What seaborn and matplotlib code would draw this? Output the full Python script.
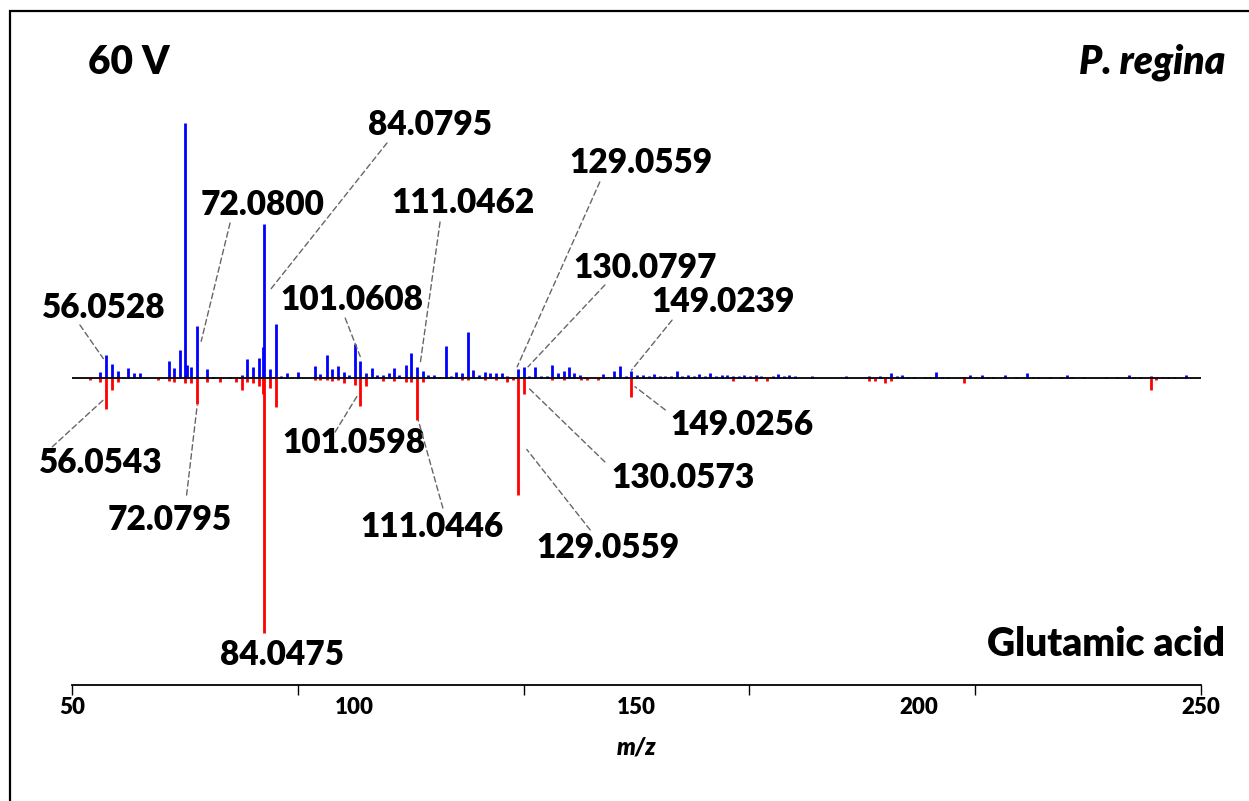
import numpy as np
import pandas as pd
import matplotlib
matplotlib.use("Agg")
import matplotlib.pyplot as plt
from matplotlib.patches import Rectangle
import seaborn as sns

# P. regina (top, blue): m/z and relative intensity (%)
regina_mz = [55.0, 56.05, 57.1, 58.1, 60.0, 61.0, 62.0, 67.1, 68.1, 69.1, 70.07, 70.4, 71.1, 72.08,
             74.0, 75.0, 78.0, 80.1, 81.0, 82.1, 83.1, 83.75, 84.08, 85.0, 86.1, 87.0, 88.0, 90.1,
             93.0, 94.0, 95.1, 96.1, 97.1, 98.1, 99.1, 100.1, 101.06, 102.1, 103.1, 104.1, 105.1,
             106.2, 107.1, 108.0, 109.2, 110.1, 111.05, 112.1, 113.1, 114.1, 115.2, 116.2, 117.1,
             118.1, 119.1, 120.2, 121.0, 122.1, 123.1, 124.0, 125.1, 126.1, 127.1, 129.06, 130.08,
             131.0, 132.0, 133.1, 134.1, 135.1, 136.1, 137.1, 138.1, 139.0, 140.0, 141.0, 144.1,
             146.1, 147.1, 148.1, 149.02, 150.1, 151.1, 152.2, 153.1, 154.2, 155.1, 156.1, 157.1,
             158.1, 159.1, 160.1, 161.1, 162.1, 163.1, 164.1, 165.1, 166.1, 167.1, 168.1, 169.1,
             170.1, 171.2, 172.1, 174.1, 175.1, 176.1, 177.1, 178.1, 181.1, 187.1, 191.2, 193.1,
             195.1, 196.1, 197.1, 198.1, 199.1, 201.1, 202.0, 203.1, 204.1, 205.2, 208.1, 209.1,
             210.1, 211.2, 212.2, 213.2, 215.2, 217.2, 219.2, 220.2, 221.2, 223.2, 225.2, 226.2,
             227.2, 229.2, 233.2, 235.2, 237.2, 238.2, 239.2, 241.2, 243.2, 244.2, 245.2, 247.3]
regina_int = [2.5, 9.1, 5.5, 2.9, 3.9, 2.1, 2.0, 6.8, 3.9, 11.0, 100.0, 5.0, 4.3, 20.4,
              3.5, 0.5, 0.5, 1.0, 7.5, 4.3, 7.7, 12.0, 60.5, 3.7, 21.0, 0.7, 2.0, 2.4,
              4.6, 1.7, 9.0, 3.5, 4.6, 2.4, 1.0, 13.2, 6.7, 2.0, 3.8, 1.2, 1.2,
              1.8, 3.8, 1.2, 5.0, 9.8, 4.3, 2.7, 1.0, 1.2, 0.4, 12.4, 0.9,
              2.4, 1.8, 17.9, 3.0, 1.0, 2.2, 1.8, 1.8, 2.0, 0.9, 3.7, 4.3,
              0.9, 4.3, 0.9, 0.9, 5.1, 2.0, 2.7, 4.2, 2.0, 1.0, 0.5, 1.7,
              2.7, 4.6, 0.7, 2.9, 1.0, 1.2, 0.6, 1.7, 0.6, 0.8, 0.6, 2.6,
              0.8, 1.2, 0.8, 1.7, 0.6, 2.0, 0.6, 1.0, 1.2, 0.8, 0.8, 1.0,
              0.6, 1.0, 0.6, 0.6, 1.7, 0.6, 1.3, 0.6, 0.8, 0.8, 0.8, 0.8,
              2.0, 0.6, 1.0, 0.5, 0.5, 0.5, 0.5, 2.2, 0.5, 0.5, 0.5, 1.3,
              0.5, 1.0, 0.5, 0.5, 1.0, 0.5, 2.0, 0.5, 0.5, 0.5, 0.5, 1.0,
              0.5, 0.5, 0.5, 0.5, 1.3, 0.5, 0.5, 0.8, 0.5, 0.5, 0.5, 1.3]

# Glutamic acid standard (bottom, red)
glu_mz = [53.2, 55.0, 56.05, 57.1, 58.1, 65.2, 67.1, 68.1, 70.07, 71.1, 72.08, 74.0, 76.2,
          79.1, 80.1, 81.0, 82.1, 83.1, 83.75, 84.05, 85.0, 86.1, 93.0, 94.0, 95.1, 96.1,
          97.1, 98.1, 100.1, 101.06, 102.1, 105.1, 107.1, 109.2, 110.1, 111.04, 112.1, 119.1,
          120.2, 123.1, 125.1, 127.1, 128.1, 129.06, 130.06, 135.1, 137.1, 140.2, 141.2, 143.1,
          149.03, 167.1, 171.2, 173.2, 191.2, 192.2, 194.1, 195.1, 208.1, 241.1, 242.1]
glu_int = [0.8, 1.7, 12.2, 4.8, 1.6, 0.8, 1.2, 1.6, 2.0, 2.0, 10.2, 1.6, 1.6,
           1.4, 4.6, 1.7, 1.8, 3.1, 6.2, 100.0, 4.0, 11.4, 0.9, 0.8, 0.9, 1.0,
           0.8, 2.0, 2.6, 10.9, 3.0, 1.0, 1.2, 1.4, 1.4, 16.5, 1.6, 0.8,
           0.9, 0.8, 0.9, 1.7, 0.9, 46.0, 6.3, 0.9, 0.9, 0.9, 0.9, 0.9,
           7.6, 1.0, 1.3, 1.0, 1.0, 1.0, 2.0, 1.0, 1.8, 4.7, 0.8]

# annotated peaks
top_labels = ["56.0528", "72.0800", "84.0795", "101.0608", "111.0462", "129.0559", "130.0797", "149.0239"]
top_peaks = [56.05, 72.08, 84.08, 101.06, 111.05, 129.06, 130.08, 149.02]
bot_labels = ["56.0543", "72.0795", "84.0475", "101.0598", "111.0446", "129.0559", "130.0573", "149.0256"]
bot_peaks = [56.05, 72.08, 84.05, 101.06, 111.04, 129.06, 130.06, 149.03]

x_ticks = [50, 90, 130, 170, 210, 250]
x_ticklabels = [50, 100, 150, 200, 250]

# layout: text centre, leader start, leader end offset from peak tip (m/z, %)
top_layout = [((55.67, 27.5), (51.4, 20.8), (-0.5, -1.5)),
              ((83.84, 67.8), (78.0, 60.8), (0.8, -6.0)),
              ((113.42, 99.2), (105.8, 92.2), (1.0, -26.0)),
              ((99.6, 30.6), (98.4, 23.5), (0.0, 1.7)),
              ((119.26, 68.6), (115.2, 61.2), (0.6, 0.8)),
              ((150.8, 84.3), (143.5, 76.9), (-0.2, 0.7)),
              ((151.5, 43.1), (144.4, 36.5), (0.7, 0.1)),
              ((165.3, 29.8), (156.3, 22.7), (0.1, 0.2))]
bot_layout = [((55.14, -33.3), (46.5, -27.0), (-0.5, 3.6)),
              ((67.36, -55.7), (70.3, -45.9), (0.1, -0.5)),
              ((87.2, -108.6), None, None),
              ((99.96, -25.5), (96.6, -21.2), (-0.5, 4.0)),
              ((113.77, -58.4), (115.7, -51.0), (0.3, 0.0)),
              ((144.95, -66.7), (141.8, -59.6), (1.5, 18.0)),
              ((158.2, -39.2), (144.4, -32.9), (1.0, 2.0)),
              ((168.7, -18.4), (155.1, -12.5), (0.7, 4.2))]

WEIGHT = 800


def main():
    df_top = pd.DataFrame({"mz": regina_mz, "intensity": regina_int})
    df_bot = pd.DataFrame({"mz": glu_mz, "intensity": glu_int})

    sns.set_theme(style="white")
    plt.rcParams['font.family'] = ['Lato', 'DejaVu Sans']
    plt.rcParams['text.color'] = 'black'
    plt.rcParams['axes.labelcolor'] = 'black'
    plt.rcParams['xtick.color'] = 'black'

    W, H = 1249, 801
    fig = plt.figure(figsize=(W / 100, H / 100), dpi=100)
    ax = fig.add_axes([72 / W, 116 / H, 1129 / W, 655 / H])
    ax.set_xlim(50, 250)
    ax.set_ylim(-120.4, 136.5)

    ax.vlines(df_top["mz"], 0, df_top["intensity"], color="#0000FF", lw=2.0)
    ax.vlines(df_bot["mz"], 0, -df_bot["intensity"], color="#FF0000", lw=2.0)
    ax.axhline(0, color="black", lw=1.3, zorder=3)

    lead = dict(arrowstyle="-", color="#666666", lw=1.0, linestyle=(0, (4, 2.5)),
                shrinkA=0, shrinkB=0)
    peak_top = dict(zip(df_top["mz"], df_top["intensity"]))
    peak_bot = dict(zip(df_bot["mz"], df_bot["intensity"]))

    for lab, mz, (txt, start, off) in zip(top_labels, top_peaks, top_layout):
        ax.text(txt[0], txt[1], lab, ha="center", va="center", fontsize=24,
                fontweight=WEIGHT, color="black", clip_on=False)
        if start is not None:
            end = (mz + off[0], peak_top[mz] + off[1])
            ax.annotate("", xy=end, xytext=start, arrowprops=lead, annotation_clip=False)

    for lab, mz, (txt, start, off) in zip(bot_labels, bot_peaks, bot_layout):
        ax.text(txt[0], txt[1], lab, ha="center", va="center", fontsize=24,
                fontweight=WEIGHT, color="black", clip_on=False)
        if start is not None:
            end = (mz + off[0], -peak_bot[mz] + off[1])
            ax.annotate("", xy=end, xytext=start, arrowprops=lead, annotation_clip=False)

    ax.text(52.83, 123.9, "60 V", ha="left", va="center", fontsize=28, fontweight=WEIGHT)
    ax.text(254.25, 123.9, "P. regina", ha="right", va="center", fontsize=28,
            fontweight=WEIGHT, style="italic", clip_on=False)
    ax.text(254.25, -104.7, "Glutamic acid", ha="right", va="center", fontsize=28,
            fontweight=WEIGHT, clip_on=False)

    for s in ["top", "left", "right"]:
        ax.spines[s].set_visible(False)
    ax.spines["bottom"].set_color("black")
    ax.spines["bottom"].set_linewidth(1.3)
    ax.set_yticks([])

    ax.xaxis.remove_overlapping_locs = False
    ax.set_xticks(x_ticklabels)
    ax.set_xticklabels([str(v) for v in x_ticklabels], fontsize=16, fontweight=WEIGHT)
    ax.set_xticks(x_ticks, minor=True)
    ax.tick_params(axis="x", which="major", length=0, pad=9)
    ax.tick_params(axis="x", which="minor", length=7, width=1, color="black",
                   direction="out", bottom=True)
    ax.set_xlabel("m/z", fontsize=17, fontweight=WEIGHT, style="italic", labelpad=12)

    fig.patches.append(Rectangle((10 / W, -0.1), 1.2, (1 - 11 / H) + 0.1,
                                 transform=fig.transFigure, fill=False,
                                 edgecolor="black", lw=1.6))

    fig.savefig("out.png", dpi=100)


if __name__ == "__main__":
    main()
